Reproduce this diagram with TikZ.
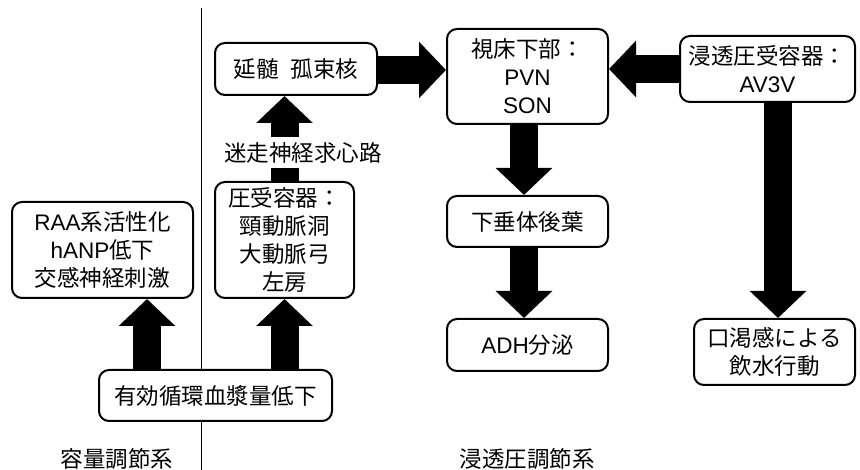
\documentclass[tikz,border=0pt]{standalone}
\usepackage{fontspec}
\setmainfont{Noto Sans CJK JP}
\newfontfamily\lat{Liberation Sans}
\usetikzlibrary{arrows.meta}
\tikzset{
  box/.style={draw, line width=2pt, rounded corners=10pt, fill=white, align=center, inner sep=0pt},
  lbl/.style={align=center, inner sep=0pt},
  bigarrow/.style={line width=28pt, -{Triangle[length=27pt,width=55pt]}},
  shaft/.style={line width=28pt},
  divider/.style={line width=1pt}
}
\begin{document}
\begin{tikzpicture}[x=1pt,y=-1pt,font=\fontsize{22.5}{28}\selectfont]
\useasboundingbox (0,0) rectangle (860,470);
\coordinate (lt) at (201,8);
\coordinate (lb) at (201,470);
\draw[divider] (lt) -- (lb);

\node[box, minimum width=162pt, minimum height=52pt] (nuc) at (296,69) {延髄\hspace{0.55em}孤束核};
\node[box, minimum width=161pt, minimum height=95pt] (hyp) at (527.5,76.5) {視床下部：\\{\lat PVN}\\{\lat SON}};
\node[box, minimum width=175pt, minimum height=66pt] (osm) at (767.5,69) {浸透圧受容器：\\{\lat AV3V}};
\node[box, minimum width=139pt, minimum height=116pt] (baro) at (284.5,240) {圧受容器：\\頸動脈洞\\大動脈弓\\左房};
\node[box, minimum width=181pt, minimum height=96pt] (raa) at (102.5,250) {{\lat RAA}系活性化\\{\lat hANP}低下\\交感神経刺激};
\node[box, minimum width=233pt, minimum height=51pt] (eff) at (215.5,395.5) {有効循環血漿量低下};
\node[box, minimum width=161pt, minimum height=51pt] (pit) at (527.5,221.5) {下垂体後葉};
\node[box, minimum width=161pt, minimum height=52pt] (adh) at (527.5,345) {{\lat ADH}分泌};
\node[box, minimum width=161pt, minimum height=66pt] (thirst) at (774.5,352) {口渇感による\\飲水行動};

\node[lbl, fill=white, minimum height=31pt] (vag) at (303,152.5) {迷走神経求心路};
\node[lbl] (vol) at (117,459) {容量調節系};
\node[lbl] (osmsys) at (527,459) {浸透圧調節系};

\draw[bigarrow] (nuc.east |- 0,70) -- (hyp.west |- 0,70);
\draw[bigarrow] (osm.west |- 0,69) -- (hyp.east |- 0,69);
\draw[bigarrow] (524,0 |- hyp.south) -- (524,0 |- pit.north);
\draw[bigarrow] (524,0 |- pit.south) -- (524,0 |- adh.north);
\draw[bigarrow] (778,0 |- osm.south) -- (778,0 |- thirst.north);
\draw[bigarrow] (147,0 |- eff.north) -- (147,0 |- raa.south);
\draw[bigarrow] (eff.north -| baro) -- (baro.south);
\draw[shaft] (baro.north) -- (baro.north |- vag.south);
\draw[bigarrow] (baro.north |- vag.north) -- (baro.north |- nuc.south);
\end{tikzpicture}
\end{document}
